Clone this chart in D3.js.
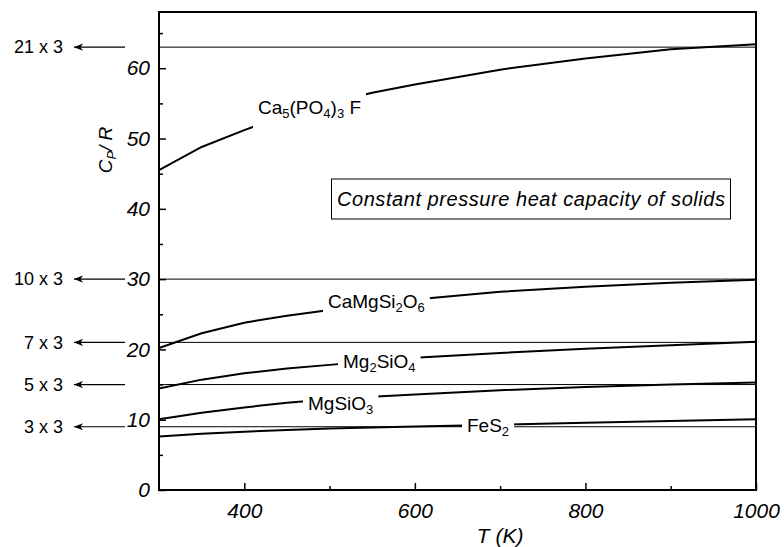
<!DOCTYPE html>
<html>
<head>
<meta charset="utf-8">
<script src="https://cdn.jsdelivr.net/npm/d3@7"></script>
<style>
  body { margin: 0; background: #fff; }
  svg { font-family: "Liberation Sans", Arial, Helvetica, sans-serif; }
</style>
</head>
<body>
<div id="chart"></div>
<script>
// temperatures (K) and Cp/R
const temps = [300, 350, 400, 450, 500, 550, 600, 700, 800, 900, 1000];
const apatite = [45.5, 48.8, 51.2, 53.4, 55.1, 56.5, 57.7, 59.8, 61.4, 62.7, 63.4];
const diopside = [20.2, 22.3, 23.8, 24.8, 25.6, 26.5, 27.1, 28.2, 28.9, 29.5, 29.9];
const forsterite = [14.45, 15.7, 16.6, 17.3, 17.8, 18.3, 18.8, 19.5, 20.1, 20.6, 21.1];
const enstatite = [10.05, 11.0, 11.75, 12.4, 12.9, 13.25, 13.6, 14.2, 14.65, 15.0, 15.3];
const pyrite = [7.6, 8.0, 8.3, 8.55, 8.75, 8.9, 9.05, 9.3, 9.55, 9.8, 10.05];

// '_x' means x is a subscript
const seriesNames = ['Ca_5(PO_4)_3 F', 'CaMgSi_2O_6', 'Mg_2SiO_4', 'MgSiO_3', 'FeS_2'];

// Dulong-Petit limits (3 x atoms per formula unit)
const limitValues = [63, 30, 21, 15, 9];
const limitLabels = ['21 x 3', '10 x 3', '7 x 3', '5 x 3', '3 x 3'];

const xTicks = [400, 600, 800, 1000];
const xMinor = [500, 700, 900];
const yTicks = [0, 10, 20, 30, 40, 50, 60];
const yMinor = [5, 15, 25, 35, 45, 55, 65];

const margin = {top: 12, right: 28, bottom: 57, left: 159};
const W = 784, H = 547;
const width = W - margin.left - margin.right;
const height = H - margin.top - margin.bottom;

// where the curve labels sit (inside plot group)
const labelPos = [[99, 101.5], [169, 295.5], [184, 355.5], [149, 398], [308, 419.5]];

const svg = d3.select('#chart').append('svg')
    .attr('width', W)
    .attr('height', H);

const defs = svg.append('defs');
defs.append('marker')
    .attr('id', 'arrow')
    .attr('viewBox', '0 -4 10 8')
    .attr('refX', 9)
    .attr('refY', 0)
    .attr('markerUnits', 'userSpaceOnUse')
    .attr('markerWidth', 10)
    .attr('markerHeight', 8)
    .attr('orient', 'auto')
  .append('path')
    .attr('d', 'M0,-3.6L9,0L0,3.6L2.5,0Z')
    .attr('fill', '#000');

const g = svg.append('g')
    .attr('transform', 'translate(' + margin.left + ',' + margin.top + ')');

const x = d3.scaleLinear().domain([300, 1000]).range([0, width]);
const y = d3.scaleLinear().domain([0, 68]).range([height, 0]);

function richText(sel, str, size, subSize) {
  let i = 0;
  let shifted = false;
  while (i < str.length) {
    if (str[i] === '_') {
      sel.append('tspan')
          .attr('font-size', subSize)
          .attr('dy', shifted ? 0 : 4)
          .text(str[i + 1]);
      shifted = true;
      i += 2;
    } else {
      let j = i;
      while (j < str.length && str[j] !== '_') j++;
      sel.append('tspan')
          .attr('font-size', size)
          .attr('dy', shifted ? -4 : 0)
          .text(str.slice(i, j));
      shifted = false;
      i = j;
    }
  }
}

// axes
g.append('g')
    .attr('transform', 'translate(0,' + height + ')')
    .call(d3.axisBottom(x).tickValues(xTicks).tickSize(-7).tickSizeOuter(0).tickPadding(13)
        .tickFormat(d3.format('d')));
g.append('g')
    .attr('transform', 'translate(0,' + height + ')')
    .call(d3.axisBottom(x).tickValues(xMinor).tickSize(-4).tickSizeOuter(0).tickFormat(''));
g.append('g')
    .call(d3.axisLeft(y).tickValues(yTicks).tickSize(-7).tickSizeOuter(0).tickPadding(9));
g.append('g')
    .call(d3.axisLeft(y).tickValues(yMinor).tickSize(-4).tickSizeOuter(0).tickFormat(''));

g.selectAll('.domain').remove();
g.selectAll('.tick line').attr('stroke', '#000').attr('stroke-width', 1.5);
g.selectAll('.tick text')
    .attr('fill', '#000')
    .style('font-family', '"Liberation Sans", Arial, sans-serif')
    .style('font-size', '21px')
    .style('font-style', 'italic');

// frame
g.append('rect')
    .attr('width', width)
    .attr('height', height)
    .attr('fill', 'none')
    .attr('stroke', '#000')
    .attr('stroke-width', 2);

// axis titles
g.append('text')
    .attr('x', x(700))
    .attr('y', height + 53)
    .attr('text-anchor', 'middle')
    .style('font-size', '21px')
    .style('font-style', 'italic')
    .text('T (K)');

const yTitle = g.append('text')
    .attr('transform', 'translate(-47,' + (150 - margin.top) + ') rotate(-90)')
    .attr('text-anchor', 'middle')
    .style('font-style', 'italic');
richText(yTitle, 'C_P/ R', 19, 13);

// curve labels first, so their boxes can cut gaps into the lines
const seriesData = [apatite, diopside, forsterite, enstatite, pyrite];
const labels = seriesNames.map((name, i) => {
  const t = g.append('text')
      .attr('class', 'curve-label')
      .attr('x', labelPos[i][0])
      .attr('y', labelPos[i][1]);
  richText(t, name, 19, 13);
  return t;
});
const boxes = labels.map(t => t.node().getBBox());

// mask for the horizontal limit lines
const refMask = defs.append('mask')
    .attr('id', 'refMask')
    .attr('maskUnits', 'userSpaceOnUse')
    .attr('x', -margin.left).attr('y', -margin.top)
    .attr('width', W).attr('height', H);
refMask.append('rect')
    .attr('x', -margin.left).attr('y', -margin.top)
    .attr('width', W).attr('height', H)
    .attr('fill', '#fff');
boxes.forEach(b => {
  refMask.append('rect')
      .attr('x', b.x - 5).attr('y', b.y - 2)
      .attr('width', b.width + 10).attr('height', b.height + 4)
      .attr('fill', '#000');
});

// limit lines
g.selectAll('.limit')
    .data(limitValues)
    .enter().append('line')
    .attr('class', 'limit')
    .attr('x1', 0)
    .attr('x2', width)
    .attr('y1', d => y(d))
    .attr('y2', d => y(d))
    .attr('stroke', '#000')
    .attr('stroke-width', 1)
    .attr('mask', 'url(#refMask)');

// arrows + labels to the left
g.selectAll('.limit-arrow')
    .data(limitValues)
    .enter().append('line')
    .attr('class', 'limit-arrow')
    .attr('x1', -34)
    .attr('x2', -85)
    .attr('y1', d => y(d))
    .attr('y2', d => y(d))
    .attr('stroke', '#000')
    .attr('stroke-width', 1.2)
    .attr('marker-end', 'url(#arrow)');

g.selectAll('.limit-label')
    .data(limitValues)
    .enter().append('text')
    .attr('class', 'limit-label')
    .attr('x', -96)
    .attr('y', d => y(d))
    .attr('dy', '0.35em')
    .attr('text-anchor', 'end')
    .style('font-size', '18px')
    .text((d, i) => limitLabels[i]);

// curves, each with a gap under its own label
const line = d3.line()
    .x((d, i) => x(temps[i]))
    .y(d => y(d));

seriesData.forEach((vals, i) => {
  const b = boxes[i];
  const m = defs.append('mask')
      .attr('id', 'curveMask' + i)
      .attr('maskUnits', 'userSpaceOnUse')
      .attr('x', -margin.left).attr('y', -margin.top)
      .attr('width', W).attr('height', H);
  m.append('rect')
      .attr('x', -margin.left).attr('y', -margin.top)
      .attr('width', W).attr('height', H)
      .attr('fill', '#fff');
  m.append('rect')
      .attr('x', b.x - 5).attr('y', b.y - 18)
      .attr('width', b.width + 10).attr('height', b.height + 36)
      .attr('fill', '#000');

  g.append('path')
      .datum(vals)
      .attr('fill', 'none')
      .attr('stroke', '#000')
      .attr('stroke-width', 2)
      .attr('d', line)
      .attr('mask', 'url(#curveMask' + i + ')');
});

// boxed note
const noteBox = g.append('rect');
const note = g.append('text')
    .attr('x', 531 - margin.left)
    .attr('y', 206 - margin.top)
    .attr('text-anchor', 'middle')
    .attr('textLength', 388)
    .attr('lengthAdjust', 'spacing')
    .style('font-size', '20px')
    .style('font-style', 'italic')
    .text('Constant pressure heat capacity of solids');
const nb = note.node().getBBox();
noteBox
    .attr('x', nb.x - 5.5)
    .attr('y', nb.y - 9)
    .attr('width', nb.width + 11)
    .attr('height', nb.height + 18)
    .attr('fill', '#fff')
    .attr('stroke', '#000')
    .attr('stroke-width', 1);
</script>
</body>
</html>
